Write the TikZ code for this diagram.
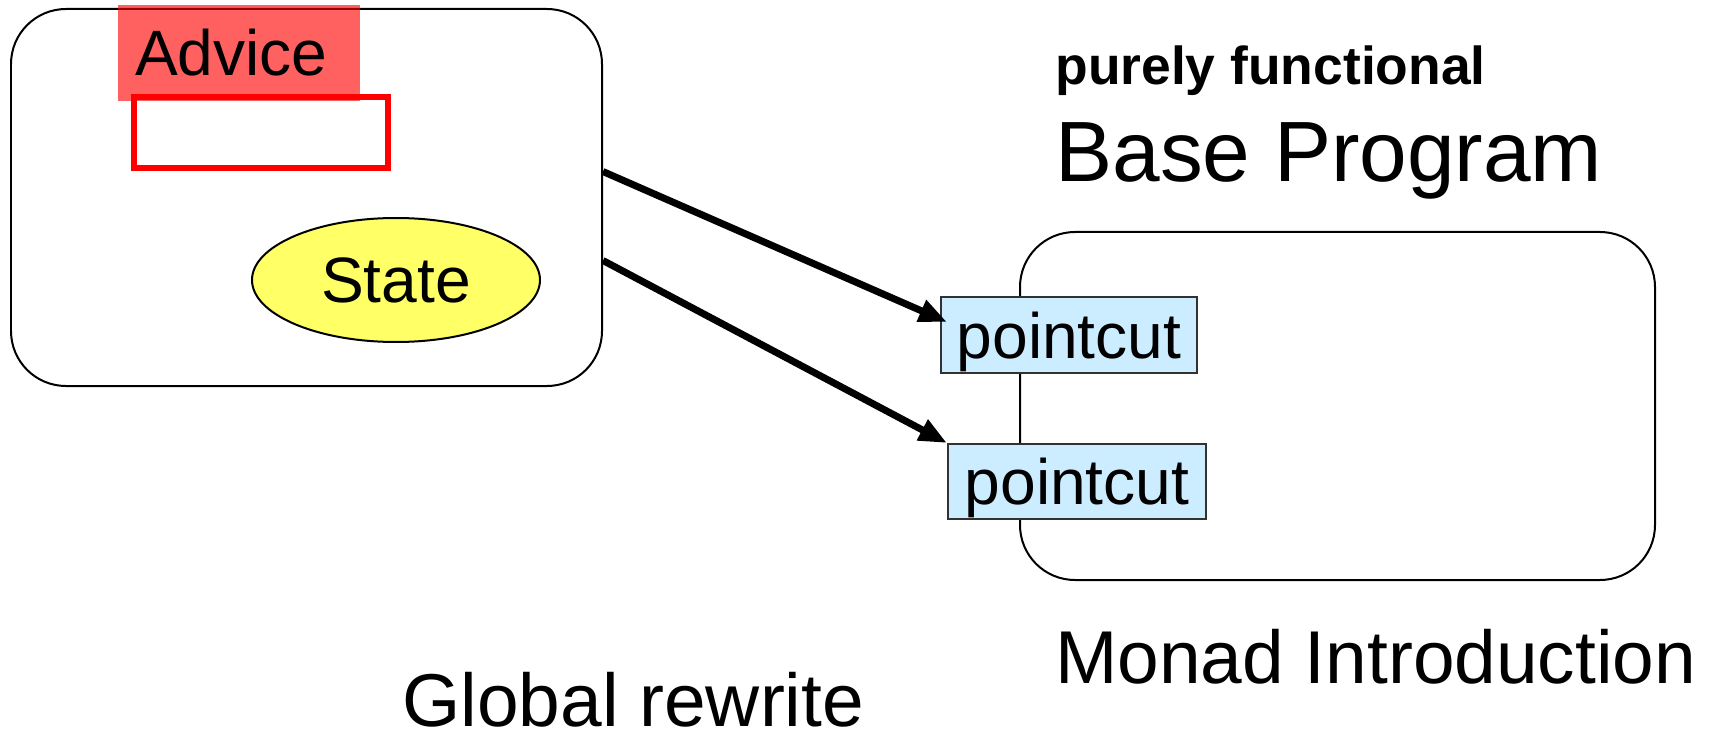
\documentclass[tikz,border=0pt]{standalone}
\usepackage{fontspec}
\setmainfont{Liberation Sans}
\usepackage{tikz}
\usetikzlibrary{arrows.meta,shapes.geometric}
\definecolor{stateYellow}{RGB}{255,255,102}
\definecolor{cutBlue}{RGB}{204,236,255}
\definecolor{cutEdge}{RGB}{50,50,50}

\begin{document}
\begin{tikzpicture}[
  font=\fontsize{36.5}{44}\selectfont,
  panel/.style={draw=black, line width=0.04cm, rounded corners=1.1cm, inner sep=0pt},
  advice/.style={fill=red, fill opacity=0.62, text opacity=1, inner ysep=0pt, inner xsep=0.34cm,
              text width=4.16cm, align=left, minimum height=1.92cm},
  slot/.style={draw=red, line width=0.13cm, inner sep=0pt,
              minimum width=5.08cm, minimum height=1.42cm},
  state/.style={ellipse, draw=black, line width=0.04cm, fill=stateYellow, inner sep=0pt,
              minimum width=5.76cm, minimum height=2.48cm},
  cut/.style={draw=cutEdge, line width=0.04cm, fill=cutBlue, inner sep=0pt, text depth=0pt,
              minimum width=5.12cm, minimum height=1.52cm},
  caption/.style={anchor=base west, inner sep=0pt},
  arr/.style={-{Triangle[length=0.56cm,width=0.44cm]}, line width=0.14cm}
]
\useasboundingbox (0,0) rectangle (34.22,14.68);

% aspect side
\node[panel, minimum width=11.82cm, minimum height=7.54cm] (aspect) at (6.13,10.73) {};
\node[advice] (advice) at (4.78,13.62) {Advice};
\node[slot] (body) at (5.22,12.03) {};
\node[state] (state) at (7.92,9.08) {State};

% base program side
\node[panel, minimum width=12.7cm, minimum height=6.96cm] (base) at (26.75,6.56) {};
\node[cut] (pc1) at (21.38,7.98) {pointcut};
\node[cut, minimum width=5.16cm, minimum height=1.5cm] (pc2) at (21.54,5.05) {pointcut};

\node[caption, font=\fontsize{30.4}{36}\selectfont\bfseries] (pure) at (21.1,12.98) {purely functional};
\node[caption, font=\fontsize{48.7}{58}\selectfont] (title) at (21.1,11.04) {Base Program};
\node[caption, font=\fontsize{42.6}{51}\selectfont] (monad) at (21.1,1.02) {Monad Introduction};
\node[caption, font=\fontsize{42.6}{51}\selectfont] (global) at (8.04,0.15) {Global rewrite};

\draw[arr] (aspect.5) -- ([xshift=0.14cm,yshift=-0.52cm]pc1.north west);
\draw[arr] (aspect.-12.5) -- (pc2.north west);

\end{tikzpicture}
\end{document}
